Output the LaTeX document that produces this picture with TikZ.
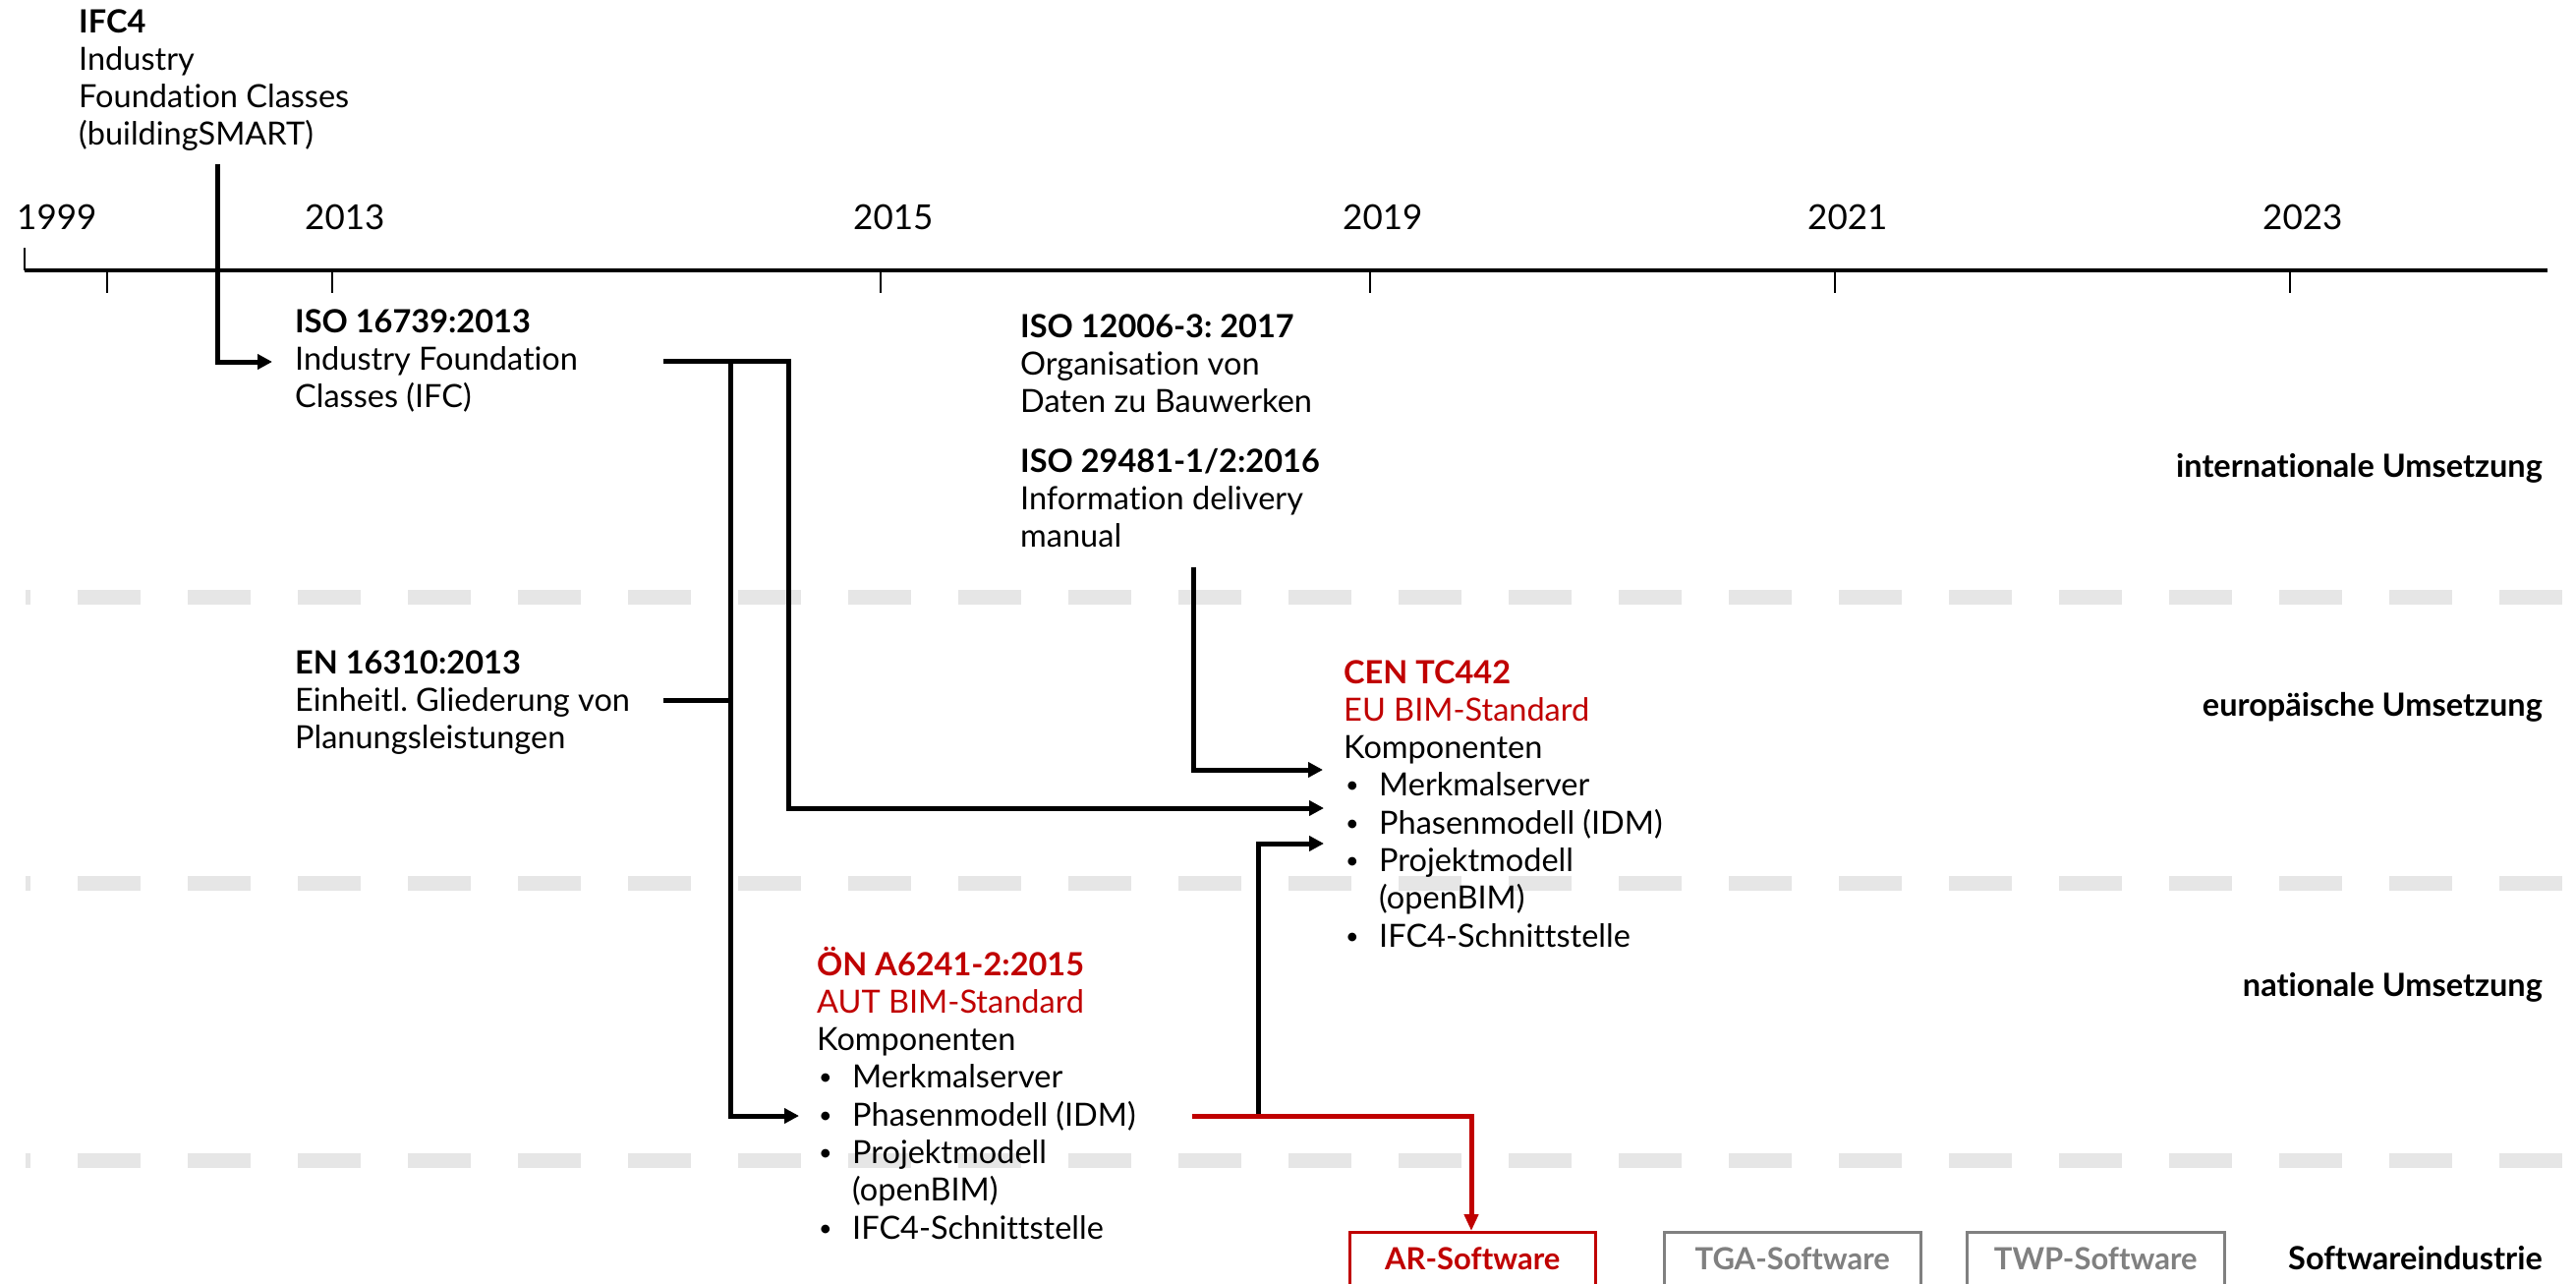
\documentclass[tikz,border=0pt]{standalone}
\usepackage{graphicx}
\usepackage{fontspec}
\setmainfont{Lato}[Ligatures=NoCommon]
\usetikzlibrary{arrows.meta}
\definecolor{rd}{HTML}{C00000}
\definecolor{gr}{HTML}{808080}
\definecolor{lanegray}{HTML}{E6E6E6}
\newcommand\bitem{\makebox[36pt][l]{\hspace{2pt}\raisebox{3pt}{\scalebox{0.72}{•}}}}
\newcommand\bind{\hspace{36pt}}
\frenchspacing
\begin{document}
\begin{tikzpicture}[x=1pt,y=-1pt,
  txt/.style={anchor=base west, inner sep=0pt, align=left, font=\fontsize{32.5}{38.3}\selectfont},
  yr/.style={anchor=base west, inner sep=0pt, font=\fontsize{35}{40}\selectfont},
  lbl/.style={anchor=base east, inner sep=0pt, font=\fontsize{32.5}{38}\selectfont\bfseries},
  conn/.style={line width=5pt, -{Triangle[length=15pt,width=15pt]}},
  plain/.style={line width=5pt},
  redconn/.style={rd, line width=5pt, -{Triangle[length=17pt,width=14pt]}},
  lanesep/.style={lanegray, line width=15pt, dash pattern=on 64pt off 48pt, dash phase=59pt},
  axisline/.style={line width=3.3pt},
  tick/.style={line width=2pt},
  swbox/.style={draw, line width=2.5pt, anchor=north west, inner xsep=0pt, inner ysep=0pt,
    text height=38pt, text depth=80pt, align=center, font=\fontsize{31}{38}\selectfont\bfseries}
]
\clip (0,0) rectangle (2621,1306);
\fill[white] (0,0) rectangle (2621,1306);

% lane separators
\coordinate (l1a) at (26,607);  \coordinate (l1b) at (2607,607);
\coordinate (l2a) at (26,898);  \coordinate (l2b) at (2607,898);
\coordinate (l3a) at (26,1180); \coordinate (l3b) at (2607,1180);
\draw[lanesep] (l1a) -- (l1b);
\draw[lanesep] (l2a) -- (l2b);
\draw[lanesep] (l3a) -- (l3b);

% time axis
\coordinate (ax0) at (25,275);
\coordinate (ax1) at (2592,275);
\coordinate (ax0top) at (25,252);
\draw[axisline] (ax0) -- (ax1);
\draw[tick] (ax0top) -- (ax0);
\foreach \n/\x in {a/109,b/338,c/896,d/1394,e/1867,f/2330}{
  \coordinate (t\n) at (\x,275);
  \coordinate (t\n b) at (\x,298);
  \draw[tick] (t\n) -- (t\n b);
}
\node[yr] (y1999) at (17,233) {1999};
\node[yr] (y2013) at (310,233) {2013};
\node[yr] (y2015) at (868,233) {2015};
\node[yr] (y2019) at (1366,233) {2019};
\node[yr] (y2021) at (1839,233) {2021};
\node[yr] (y2023) at (2302,233) {2023};

% text nodes (anchor = baseline of the last line)
\node[txt] (ifc4) at (80,33+3*38.3) {\textbf{IFC4}\\Industry\\Foundation Classes\\(buildingSMART)};
\node[txt] (iso16739) at (300,338+2*38.3) {\textbf{ISO 16739:2013}\\Industry Foundation\\Classes (IFC)};
\node[txt] (iso12006) at (1038,343+2*38.3) {\textbf{ISO 12006-3: 2017}\\Organisation von\\Daten zu Bauwerken};
\node[txt] (iso29481) at (1038,480+2*38.3) {\textbf{ISO 29481-1/2:2016}\\Information delivery\\manual};
\node[txt] (en16310) at (300,685+2*38.3) {\textbf{EN 16310:2013}\\Einheitl. Gliederung von\\Planungsleistungen};
\node[txt] (cen) at (1367,695+7*38.3) {\textcolor{rd}{\textbf{CEN TC442}}\\\textcolor{rd}{EU BIM-Standard}\\Komponenten\\\bitem Merkmalserver\\\bitem Phasenmodell (IDM)\\\bitem Projektmodell\\\bind(openBIM)\\\bitem IFC4-Schnittstelle};
\node[txt] (oen) at (831,992+7*38.3) {\textcolor{rd}{\textbf{ÖN A6241-2:2015}}\\\textcolor{rd}{AUT BIM-Standard}\\Komponenten\\\bitem Merkmalserver\\\bitem Phasenmodell (IDM)\\\bitem Projektmodell\\\bind(openBIM)\\\bitem IFC4-Schnittstelle};

% lane labels
\node[lbl] (intl) at (2587,485) {internationale Umsetzung};
\node[lbl] (euro) at (2587,728) {europäische Umsetzung};
\node[lbl] (natl) at (2587,1013) {nationale Umsetzung};
\node[lbl] (swind) at (2587,1291) {Softwareindustrie};

% software boxes
\node[swbox, rd, minimum width=250pt] (ar) at (1372,1252) {AR-Software};
\node[swbox, gr, minimum width=261pt] (tga) at (1692,1252) {TGA-Software};
\node[swbox, gr, minimum width=262pt] (twp) at (2000,1252) {TWP-Software};

% connector coordinates
\coordinate (ifcA) at (221,167);
\coordinate (ifcB) at (221,368);
\coordinate (isoIn) at (277,368);
\coordinate (isoOut) at (675,367);
\coordinate (brA) at (743,367);
\coordinate (brB) at (802,367);
\coordinate (brBdown) at (802,822);
\coordinate (cenIn2) at (1347,822);
\coordinate (enOut) at (675,712);
\coordinate (enJ) at (743,712);
\coordinate (brAdown) at (743,1135);
\coordinate (oenIn) at (813,1135);
\coordinate (idmA) at (1214,577);
\coordinate (idmB) at (1214,783);
\coordinate (cenIn1) at (1346,783);
\coordinate (oenOut) at (1213,1135);
\coordinate (upJ) at (1280,1135);
\coordinate (upB) at (1280,858);
\coordinate (cenIn3) at (1347,858);
\coordinate (redJ) at (1497,1135);

\draw[conn] (ifcA) -- (ifcB) -- (isoIn);
\draw[conn] (isoOut) -- (brB) -- (brBdown) -- (cenIn2);
\draw[conn] (brA) -- (brAdown) -- (oenIn);
\draw[plain] (enOut) -- (enJ);
\draw[conn] (idmA) -- (idmB) -- (cenIn1);
\draw[conn] (upJ) -- (upB) -- (cenIn3);
\draw[redconn] (oenOut) -- (redJ) -- (ar.north -| redJ);
\end{tikzpicture}
\end{document}
